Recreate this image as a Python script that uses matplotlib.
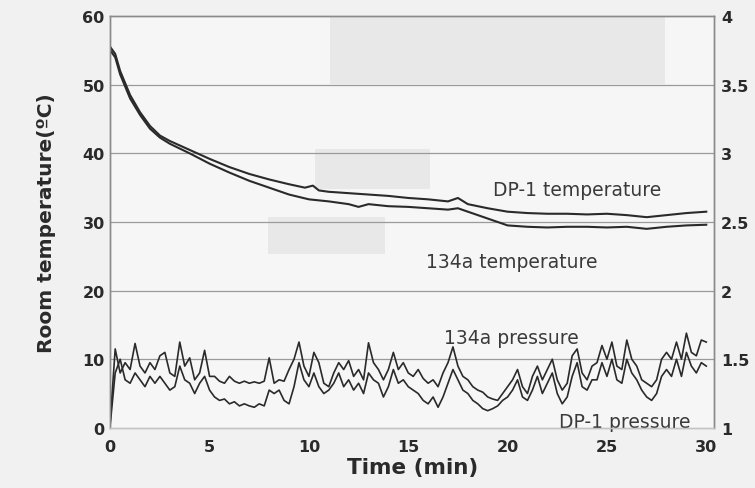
import numpy as np
import matplotlib
matplotlib.use("Agg")
import matplotlib.pyplot as plt
from matplotlib.patches import Rectangle

plt.rcParams['font.family'] = ['DejaVu Sans']

# ---- data ----
t_temp_dp1 = [0, 0.25, 0.5, 1, 1.5, 2, 2.5, 3, 4, 5, 6, 7, 8, 9, 9.8, 10.2, 10.5, 11, 12, 13, 14,
              15, 16, 17, 17.5, 18, 19, 20, 21, 22, 23, 24, 25, 26, 27, 28, 29, 30]
temp_dp1 = [55.5, 54.5, 52, 48.5, 46, 44, 42.6, 41.8, 40.5, 39.2, 38, 37, 36.2, 35.5, 35, 35.3, 34.6,
            34.4, 34.2, 34, 33.8, 33.5, 33.3, 33, 33.5, 32.6, 32, 31.5, 31.3, 31.2, 31.2, 31.1, 31.2,
            31, 30.7, 31, 31.3, 31.5]

t_temp_134a = [0, 0.25, 0.5, 1, 1.5, 2, 2.5, 3, 4, 5, 6, 7, 8, 9, 10, 11, 12, 12.5, 13, 14, 15, 16,
               17, 17.5, 18, 19, 20, 21, 22, 23, 24, 25, 26, 27, 28, 29, 30]
temp_134a = [55, 54, 51.5, 48, 45.6, 43.6, 42.3, 41.4, 40, 38.5, 37.2, 36, 35, 34, 33.3, 33, 32.6,
             32.2, 32.6, 32.3, 32.2, 32, 31.8, 32, 31.5, 30.5, 29.5, 29.3, 29.2, 29.3, 29.3, 29.2,
             29.3, 29, 29.3, 29.5, 29.6]

# pressures (MPa), sampled every 0.25 min from 0 to 30
press_134a = [1.05, 1.575, 1.40, 1.475, 1.425, 1.615, 1.45, 1.40, 1.475, 1.425, 1.525, 1.55, 1.40,
              1.375, 1.625, 1.45, 1.51, 1.35, 1.40, 1.565, 1.375, 1.375, 1.34, 1.325, 1.375, 1.34,
              1.325, 1.34, 1.325, 1.335, 1.325, 1.34, 1.51, 1.325, 1.35, 1.34, 1.425, 1.50, 1.625,
              1.45, 1.375, 1.55, 1.475, 1.325, 1.30, 1.40, 1.475, 1.425, 1.49, 1.375, 1.425, 1.35,
              1.62, 1.475, 1.425, 1.35, 1.425, 1.55, 1.425, 1.475, 1.40, 1.375, 1.425, 1.36, 1.325,
              1.35, 1.30, 1.40, 1.475, 1.59, 1.45, 1.375, 1.35, 1.30, 1.275, 1.26, 1.225, 1.21, 1.20,
              1.25, 1.30, 1.35, 1.425, 1.30, 1.25, 1.375, 1.45, 1.35, 1.425, 1.50, 1.35, 1.275,
              1.325, 1.525, 1.575, 1.40, 1.35, 1.45, 1.475, 1.60, 1.50, 1.625, 1.45, 1.425, 1.64,
              1.50, 1.45, 1.35, 1.325, 1.30, 1.35, 1.50, 1.55, 1.50, 1.625, 1.50, 1.69, 1.55, 1.525,
              1.64, 1.625]
press_dp1 = [1.025, 1.40, 1.50, 1.35, 1.325, 1.40, 1.35, 1.30, 1.375, 1.325, 1.375, 1.325, 1.275,
             1.30, 1.45, 1.35, 1.325, 1.25, 1.325, 1.375, 1.275, 1.225, 1.20, 1.21, 1.175, 1.19,
             1.16, 1.175, 1.16, 1.15, 1.175, 1.16, 1.275, 1.25, 1.275, 1.20, 1.175, 1.30, 1.475,
             1.35, 1.30, 1.40, 1.30, 1.25, 1.275, 1.325, 1.40, 1.30, 1.35, 1.275, 1.325, 1.25, 1.40,
             1.35, 1.325, 1.225, 1.30, 1.425, 1.325, 1.35, 1.30, 1.275, 1.25, 1.20, 1.175, 1.225,
             1.15, 1.225, 1.325, 1.425, 1.35, 1.275, 1.25, 1.20, 1.175, 1.14, 1.125, 1.14, 1.16,
             1.20, 1.225, 1.275, 1.35, 1.225, 1.20, 1.275, 1.375, 1.25, 1.325, 1.40, 1.25, 1.175,
             1.225, 1.375, 1.475, 1.30, 1.275, 1.35, 1.35, 1.475, 1.375, 1.50, 1.35, 1.325, 1.50,
             1.40, 1.35, 1.275, 1.225, 1.20, 1.25, 1.375, 1.425, 1.375, 1.50, 1.375, 1.55, 1.45,
             1.40, 1.475, 1.45]

x_ticks = [0, 5, 10, 15, 20, 25, 30]
y_left_ticks = [0, 10, 20, 30, 40, 50, 60]
y_right_ticks = [1, 1.5, 2, 2.5, 3, 3.5, 4]
y_right_labels = ['1', '1.5', '2', '2.5', '3', '3.5', '4']

# ---- figure ----
ink = '#2a2a2a'
fig = plt.figure(figsize=(7.55, 4.89), dpi=100, facecolor='#f1f1f1')
ax = fig.add_axes([0.146, 0.123, 0.8, 0.842])
ax.set_facecolor('#f6f6f6')

# scan-artifact grey boxes (axes fraction)
for (x0, y0, w, h) in [(0.364, 0.835, 0.555, 0.165), (0.339, 0.58, 0.19, 0.097),
                       (0.262, 0.422, 0.193, 0.09)]:
    ax.add_patch(Rectangle((x0, y0), w, h, transform=ax.transAxes,
                           facecolor='#e8e8e8', edgecolor='none', zorder=0.5))

ax2 = ax.twinx()
ax.set_zorder(2)
ax2.set_zorder(3)
ax2.patch.set_visible(False)

ax.plot(t_temp_dp1, temp_dp1, color=ink, lw=1.5, zorder=3)
ax.plot(t_temp_134a, temp_134a, color=ink, lw=1.5, zorder=3)

t_p = np.linspace(0, 30, len(press_134a))
ax2.plot(t_p, press_134a, color=ink, lw=1.2)
t_p2 = np.linspace(0, 30, len(press_dp1))
ax2.plot(t_p2, press_dp1, color=ink, lw=1.2)

ax.set_xlim(0, 30.4)
ax.set_ylim(0, 60)
ax2.set_ylim(1, 4)

for yv in [10, 20, 30, 40, 50]:
    ax.axhline(yv, color='#9a9a9a', lw=0.9, zorder=1)

ax.set_xticks(x_ticks)
ax.set_yticks(y_left_ticks)
ax2.set_yticks(y_right_ticks)
ax2.set_yticklabels(y_right_labels)

ax.tick_params(axis='both', length=0, labelsize=11.5, colors=ink, pad=8)
ax.tick_params(axis='y', pad=4)
ax2.tick_params(axis='y', length=0, labelsize=11.5, colors=ink, pad=5)
for lab in ax.get_xticklabels() + ax.get_yticklabels() + ax2.get_yticklabels():
    lab.set_fontweight('bold')

for a in (ax, ax2):
    for s in a.spines.values():
        s.set_color('#8a8a8a')
        s.set_linewidth(1.0)
ax.spines['bottom'].set_color('#c4c4c4')
ax2.spines['bottom'].set_color('#c4c4c4')

ax.set_xlabel('Time (min)', fontsize=15.5, fontweight='bold', color=ink, labelpad=2)
ax.set_ylabel('Room temperature(\u00baC)', fontsize=14.5, fontweight='bold', color=ink, labelpad=19)

ax.text(23.5, 34.7, 'DP-1 temperature', fontsize=13.5, color='#3a3a3a', ha='center', va='center', zorder=4)
ax.text(20.2, 24.2, '134a temperature', fontsize=13.5, color='#3a3a3a', ha='center', va='center', zorder=4)
ax.text(20.2, 13.2, '134a pressure', fontsize=13.5, color='#3a3a3a', ha='center', va='center', zorder=4)
ax.text(25.9, 0.9, 'DP-1 pressure', fontsize=13.5, color='#3a3a3a', ha='center', va='center', zorder=4)

fig.savefig('out.png', dpi=100, facecolor=fig.get_facecolor())
